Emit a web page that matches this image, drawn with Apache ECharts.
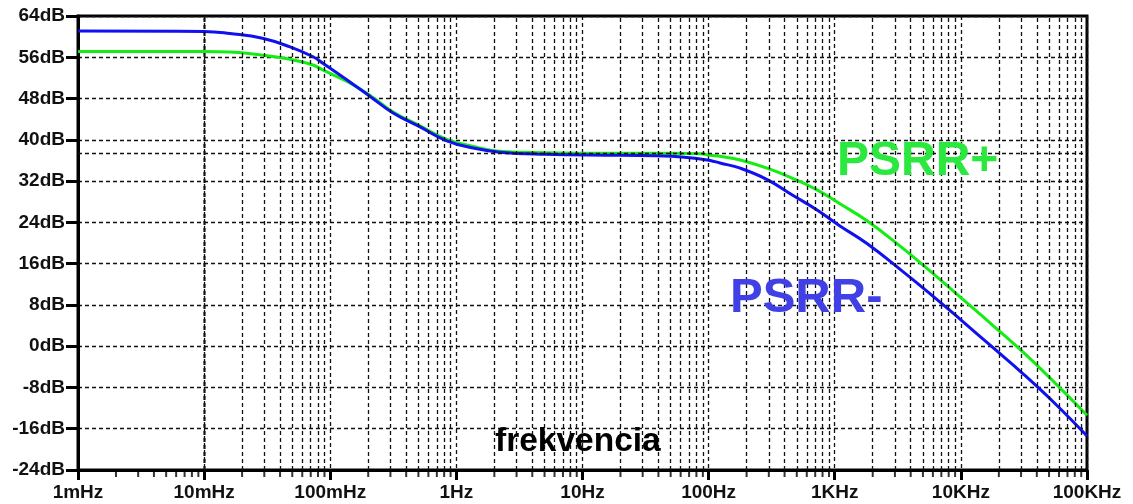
<!DOCTYPE html>
<html>
<head>
<meta charset="utf-8">
<script src="https://cdn.jsdelivr.net/npm/echarts@6/dist/echarts.min.js"></script>
<style>
html,body{margin:0;padding:0;background:#fff;}
#chart{width:1133px;height:504px;}
</style>
</head>
<body>
<div id="chart"></div>
<script>
// ---- data ----
const tickLabels = ['1mHz','10mHz','100mHz','1Hz','10Hz','100Hz','1KHz','10KHz','100KHz'];
const freqHz = [0.001, 0.01, 0.016, 0.029, 0.048, 0.073, 0.088, 0.136, 0.207, 0.315, 0.515, 0.84, 1.36, 2.2, 5, 20, 51, 86, 103, 123, 178, 291, 468, 724, 1100, 1800, 3300, 5620, 10000, 17800, 31600, 56200, 100000];
const psrrMinus = [61.1, 61.0, 60.6, 59.7, 58.0, 56.1, 54.8, 51.6, 48.4, 45.2, 42.5, 39.8, 38.4, 37.6, 37.2, 37.0, 36.8, 36.3, 36.0, 35.5, 34.5, 32.3, 29.2, 26.4, 23.3, 19.9, 14.9, 10.3, 5.1, -0.2, -5.5, -11.2, -17.4];
const psrrPlus = [57.1, 57.1, 57.0, 56.4, 55.6, 54.5, 53.5, 51.3, 48.6, 45.4, 42.7, 40.1, 38.7, 37.8, 37.5, 37.4, 37.4, 37.3, 37.0, 36.8, 36.1, 34.5, 32.5, 30.3, 27.6, 24.3, 19.4, 14.7, 9.4, 4.1, -1.3, -7.2, -13.4];
const yMinDb = -24, yMaxDb = 64, yStepDb = 8;
const cursorDb = 37.3;

// ---- build ----
const FONT = '"Liberation Sans", Arial, sans-serif';
const minorFreqs = [];
for (let e = -3; e < 5; e++) for (let k = 2; k <= 9; k++) minorFreqs.push(k * Math.pow(10, e));

const dashStyle = {color: '#111', width: 1.3, type: [4, 3]};

const chart = echarts.init(document.getElementById('chart'), null, {renderer: 'canvas'});
chart.setOption({
  animation: false,
  backgroundColor: '#fff',
  grid: {left: 78, right: 46, top: 16, bottom: 34, show: true, borderColor: '#000', borderWidth: 3, backgroundColor: 'transparent'},
  xAxis: {
    type: 'log', logBase: 10, min: 0.001, max: 100000, splitNumber: 8,
    axisLine: {show: true, onZero: false, lineStyle: {color: '#000', width: 3}},
    axisTick: {show: true, length: 10, lineStyle: {color: '#000', width: 3}},
    axisLabel: {
      margin: 23, verticalAlign: 'middle', color: '#111', fontFamily: FONT, fontWeight: 'bold', fontSize: 19,
      formatter: v => tickLabels[Math.round(Math.log10(v)) + 3]
    },
    splitLine: {show: true, lineStyle: dashStyle},
    minorTick: {show: false}
  },
  yAxis: {
    type: 'value', min: yMinDb, max: yMaxDb, interval: yStepDb,
    axisLine: {show: true, onZero: false, lineStyle: {color: '#000', width: 3}},
    axisTick: {show: true, length: 12, lineStyle: {color: '#000', width: 3}},
    axisLabel: {margin: 13, color: '#111', fontFamily: FONT, fontWeight: 'bold', fontSize: 19, formatter: v => v + 'dB'},
    splitLine: {show: true, lineStyle: dashStyle}
  },
  series: [
    {
      type: 'line', name: 'grid', data: [], silent: true, z: 1,
      markLine: {
        silent: true, symbol: ['none', 'none'], label: {show: false}, animation: false,
        lineStyle: dashStyle, emphasis: {disabled: true},
        data: minorFreqs.map(f => ({xAxis: f})).concat([{yAxis: cursorDb}])
      }
    },
    {
      type: 'scatter', name: 'minorTicks', silent: true, clip: false, z: 5,
      symbol: 'rect', symbolSize: [2, 6], symbolOffset: [0, 4],
      itemStyle: {color: '#000'},
      data: minorFreqs.map(f => [f, yMinDb])
    },
    {
      type: 'line', name: 'PSRR+', smooth: 0.45, showSymbol: false, z: 3,
      lineStyle: {color: '#12ee12', width: 3},
      data: freqHz.map((f, i) => [f, psrrPlus[i]])
    },
    {
      type: 'line', name: 'PSRR-', smooth: 0.45, showSymbol: false, z: 4,
      lineStyle: {color: '#1010f0', width: 3},
      data: freqHz.map((f, i) => [f, psrrMinus[i]])
    }
  ],
  graphic: [
    {type: 'text', left: 837, top: 138, z: 10, silent: true,
     style: {text: 'PSRR+', fill: '#2ae83e', font: 'bold 48px ' + FONT}},
    {type: 'text', left: 730, top: 274, z: 10, silent: true,
     style: {text: 'PSRR-', fill: '#4040e6', font: 'bold 49px ' + FONT}},
    {type: 'text', left: 495, top: 425, z: 10, silent: true,
     style: {text: 'frekvencia', fill: '#000', font: 'bold 33.5px ' + FONT}}
  ]
});
</script>
</body>
</html>
